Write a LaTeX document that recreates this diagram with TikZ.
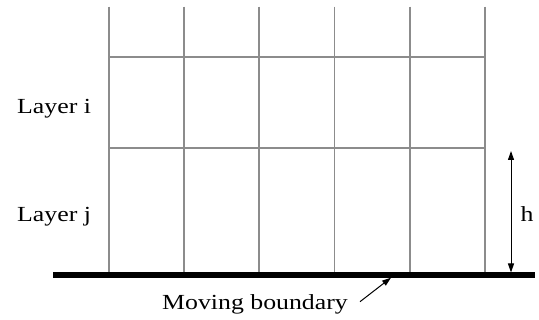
\documentclass[tikz,border=0pt]{standalone}
\usepackage{fontspec}
\usepackage{graphicx}
\setmainfont{Liberation Serif}
\usetikzlibrary{arrows.meta}
\newcommand{\wide}[1]{\scalebox{1.2}[1]{#1}}
\begin{document}
\begin{tikzpicture}[x=1pt,y=-1pt,
  gridline/.style={draw=gray!90,line width=1.8pt},
  lab/.style={font=\fontsize{21.5}{26}\selectfont,inner sep=0pt},
  base/.style={line width=5.3pt,draw=black},
  tip/.style={line width=1pt},
  tri/.style={Triangle[length=9pt,width=6pt]}]
\useasboundingbox (0,0) rectangle (539,320);
% vertical grid lines
\foreach \x in {108.6,183.8,259,334.4,409.7,485}{
  \draw[gridline] (\x,6.7) -- (\x,275);
}
\draw[gridline] (108.6,56.7) -- (485,56.7);
\draw[gridline] (108.6,148.3) -- (485,148.3);
\draw[base] (53,275) -- (535,275);
\node[lab,anchor=base west] (li) at (17,114) {\wide{Layer i}};
\node[lab,anchor=base west] (lj) at (17,221.7) {\wide{Layer j}};
\node[lab,anchor=base] (h) at (527,222) {\wide{h}};
\coordinate (htop) at (511,151);
\coordinate (hbot) at (511,272.5);
\draw[tip,{Triangle[length=9pt,width=6pt]}-{Triangle[length=9pt,width=6pt]}] (htop) -- (hbot);
\node[lab,anchor=base] (mb) at (255,309.3) {\wide{Moving boundary}};
\coordinate (mbtail) at (360,301.7);
\coordinate (mbtip) at (391,277.7);
\draw[tip,-{Triangle[length=9pt,width=6pt]}] (mbtail) -- (mbtip);
\end{tikzpicture}
\end{document}
